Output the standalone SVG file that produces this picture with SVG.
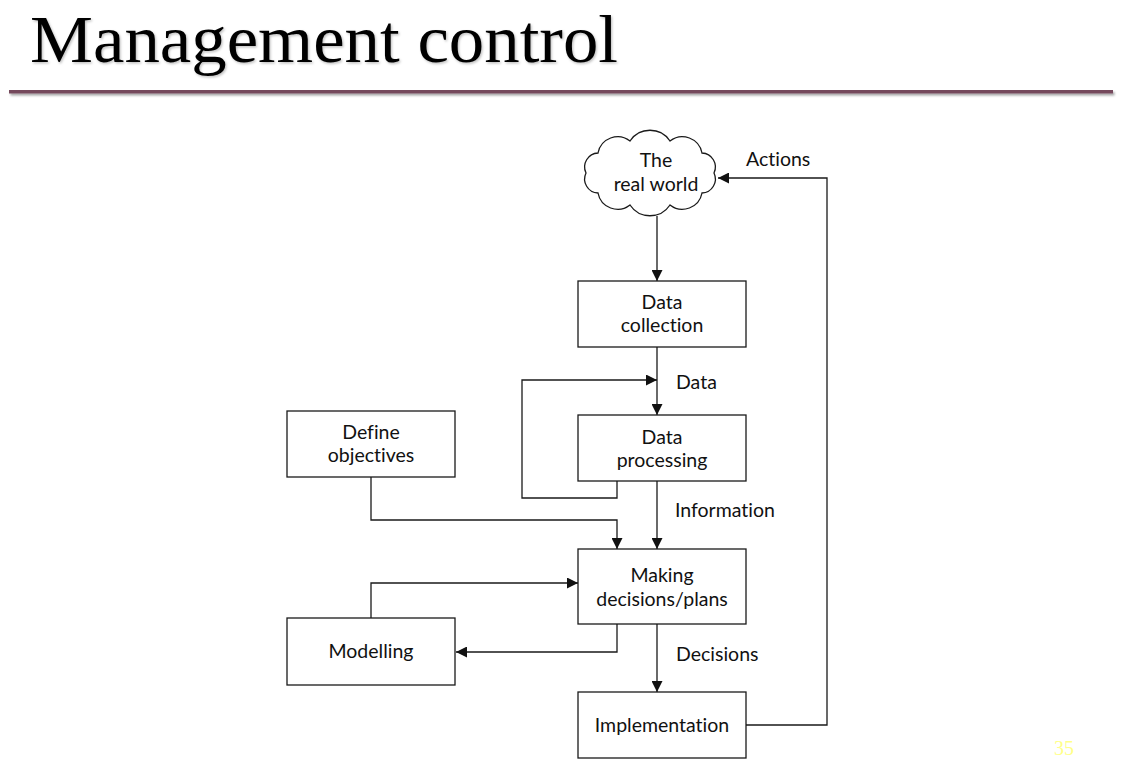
<svg xmlns="http://www.w3.org/2000/svg" width="1121" height="760" viewBox="0 0 1121 760">
<style>
.box{fill:#fff;stroke:#1a1a1a;stroke-width:1.3}
.lbl{font-family:Lato,"Noto Sans",sans-serif;font-size:19.5px;fill:#111;text-anchor:middle;font-variant-ligatures:none}
.elbl{font-family:Lato,"Noto Sans",sans-serif;font-size:19.5px;fill:#111;font-variant-ligatures:none}
.con{fill:none;stroke:#1a1a1a;stroke-width:1.3}
</style>
<defs>
<marker id="ah" viewBox="0 0 10 10" refX="10" refY="5" markerWidth="11" markerHeight="11" markerUnits="userSpaceOnUse" orient="auto">
<path d="M0,0 L10,5 L0,10 Z" fill="#111"/>
</marker>
<filter id="sh" x="-5%" y="-50%" width="110%" height="200%">
<feDropShadow dx="1.2" dy="1.5" stdDeviation="1" flood-color="#000" flood-opacity="0.25"/>
</filter>
<filter id="shl" filterUnits="userSpaceOnUse" x="0" y="80" width="1121" height="25">
<feDropShadow dx="1.5" dy="2" stdDeviation="1.2" flood-color="#000" flood-opacity="0.35"/>
</filter>
</defs>
<rect width="1121" height="760" fill="#fff"/>
<g id="title">
<text x="30" y="62" font-family="'Liberation Serif',serif" font-size="68" textLength="588" lengthAdjust="spacingAndGlyphs" fill="#000" filter="url(#sh)">Management control</text>
<rect x="9" y="90" width="1104" height="3.5" fill="#744a5c" filter="url(#shl)"/>
</g>
<g id="connectors">
<path class="con" d="M657,216 V281" marker-end="url(#ah)"/>
<path class="con" d="M657,347 V415" marker-end="url(#ah)"/>
<path class="con" d="M617,481 V498 H522 V380 H657" marker-end="url(#ah)"/>
<path class="con" d="M657,481 V549" marker-end="url(#ah)"/>
<path class="con" d="M371,477 V520 H617 V549" marker-end="url(#ah)"/>
<path class="con" d="M617,624 V652 H456" marker-end="url(#ah)"/>
<path class="con" d="M371,618 V583 H578" marker-end="url(#ah)"/>
<path class="con" d="M657,624 V692" marker-end="url(#ah)"/>
<path class="con" d="M746,725 H827 V178 H718" marker-end="url(#ah)"/>
<text class="elbl" x="676" y="389">Data</text>
<text class="elbl" x="675" y="517">Information</text>
<text class="elbl" x="676" y="661">Decisions</text>
<text class="elbl" x="746" y="166">Actions</text>
</g>
<g id="real-world">
<path class="box" d="M714,173 A14,14 0 0 1 702,193 A20,20 0 0 1 670,205 A24,24 0 0 1 630,205 A20,20 0 0 1 598,193 A14,14 0 0 1 586,173 A14,14 0 0 1 598,153 A20,20 0 0 1 630,141 A24,24 0 0 1 670,141 A20,20 0 0 1 702,153 A14,14 0 0 1 714,173 Z"/>
<text class="lbl" x="656" y="167">The</text>
<text class="lbl" x="656" y="191">real world</text>
</g>
<g id="data-collection">
<rect class="box" x="578" y="281" width="168" height="66"/>
<text class="lbl" x="662" y="309">Data</text>
<text class="lbl" x="662" y="332">collection</text>
</g>
<g id="data-processing">
<rect class="box" x="578" y="415" width="168" height="66"/>
<text class="lbl" x="662" y="444">Data</text>
<text class="lbl" x="662" y="467">processing</text>
</g>
<g id="define-objectives">
<rect class="box" x="287" y="411" width="168" height="66"/>
<text class="lbl" x="371" y="439">Define</text>
<text class="lbl" x="371" y="462">objectives</text>
</g>
<g id="making-decisions">
<rect class="box" x="578" y="549" width="168" height="75"/>
<text class="lbl" x="662" y="582">Making</text>
<text class="lbl" x="662" y="606">decisions/plans</text>
</g>
<g id="modelling">
<rect class="box" x="287" y="618" width="168" height="67"/>
<text class="lbl" x="371" y="658">Modelling</text>
</g>
<g id="implementation">
<rect class="box" x="578" y="692" width="168" height="66"/>
<text class="lbl" x="662" y="732">Implementation</text>
</g>
<text x="1054" y="755" font-family="'Liberation Serif',serif" font-size="20" fill="#ffff88">35</text>
</svg>
